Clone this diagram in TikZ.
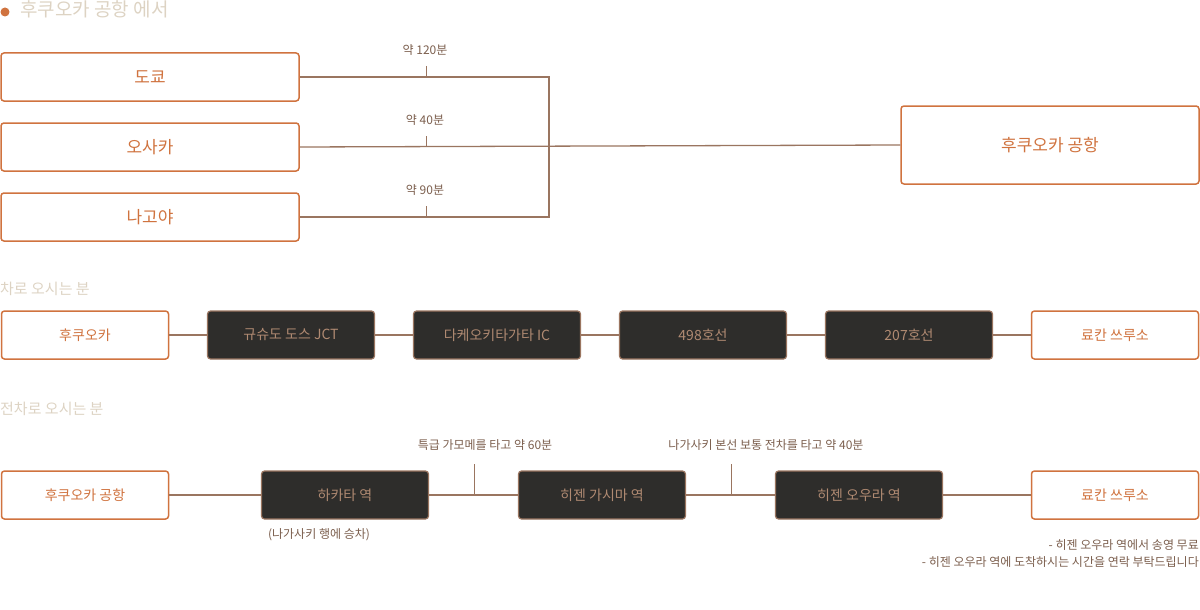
\documentclass[tikz,border=0pt]{standalone}
\usepackage{fontspec}
\setmainfont{Noto Sans CJK KR}
\usetikzlibrary{positioning}
\definecolor{orng}{HTML}{D0733F}
\definecolor{brwn}{HTML}{9A7560}
\definecolor{dark}{HTML}{2E2D2B}
\definecolor{dtxt}{HTML}{B08A72}
\definecolor{pale}{HTML}{DDD3C3}
\tikzset{
  obox/.style={draw=orng,line width=1.5pt,rounded corners=3pt,fill=white,text=orng,inner sep=0pt},
  dbox/.style={draw=brwn,line width=1.2pt,rounded corners=3pt,fill=dark,text=dtxt,inner sep=0pt},
  conn/.style={draw=brwn,line width=1.3pt},
  head/.style={text=pale,font=\fontsize{19}{19}\selectfont,anchor=west,inner sep=0pt},
  note/.style={text=brwn!80!black,font=\fontsize{12}{12}\selectfont,inner sep=0pt}
}
\begin{document}
\begin{tikzpicture}[x=1pt,y=-1pt]
\useasboundingbox (0,0) rectangle (1200,610);
% airport
\fill[orng] (5,12) circle (4.5);
\node[head] (t1) at (20,9) {후쿠오카 공항 에서};
\node[obox,minimum width=298pt,minimum height=48pt,font=\fontsize{17}{17}\selectfont] (tky) at (150,77) {도쿄};
\node[obox,minimum width=298pt,minimum height=48pt,font=\fontsize{17}{17}\selectfont] (osk) at (150,147) {오사카};
\node[obox,minimum width=298pt,minimum height=48pt,font=\fontsize{17}{17}\selectfont] (ngy) at (150,217) {나고야};
\node[obox,minimum width=298pt,minimum height=78pt,font=\fontsize{17}{17}\selectfont] (fuk) at (1050,145) {후쿠오카 공항};
\coordinate (j1) at (549,77);
\coordinate (j2) at (549,217);
\draw[conn] (tky.east) -- (j1) -- (j2) -- (ngy.east);
\draw[conn] (osk.east) -- (fuk.west);
\node[note] (l1) at (425,50) {약 120분};
\node[note] (l2) at (425,120) {약 40분};
\node[note] (l3) at (425,190) {약 90분};
\draw[brwn,line width=0.8pt] (426,66) -- (426,77) (426,136) -- (426,147) (426,206) -- (426,217);
% car
\node[head,font=\fontsize{15}{15}\selectfont] (t2) at (0,289) {차로 오시는 분};
\foreach \n/\x/\s/\t in {c1/85/obox/후쿠오카,c2/291/dbox/규슈도 도스 JCT,c3/497/dbox/다케오키타가타 IC,c4/703/dbox/498호선,c5/909/dbox/207호선,c6/1115/obox/료칸 쓰루소}
  \node[\s,minimum width=167pt,minimum height=48pt,font=\fontsize{14}{14}\selectfont] (\n) at (\x,335) {\t};
\draw[conn] (c1) -- (c2) (c2) -- (c3) (c3) -- (c4) (c4) -- (c5) (c5) -- (c6);
% train
\node[head,font=\fontsize{15}{15}\selectfont] (t3) at (0,409) {전차로 오시는 분};
\foreach \n/\x/\s/\t in {r1/85/obox/후쿠오카 공항,r2/345/dbox/하카타 역,r3/602/dbox/히젠 가시마 역,r4/859/dbox/히젠 오우라 역,r5/1115/obox/료칸 쓰루소}
  \node[\s,minimum width=167pt,minimum height=48pt,font=\fontsize{14}{14}\selectfont] (\n) at (\x,495) {\t};
\draw[conn] (r1) -- (r2) (r2) -- (r3) (r3) -- (r4) (r4) -- (r5);
\draw[brwn,line width=0.8pt] (474,464) -- (474,495) (731,464) -- (731,495);
\node[note] (m1) at (485,445) {특급 가모메를 타고 약 60분};
\node[note] (m2) at (766,445) {나가사키 본선 보통 전차를 타고 약 40분};
\node[note] (m3) at (319,535) {(나가사키 행에 승차)};
\node[note,anchor=east] (m4) at (1199,545) {- 히젠 오우라 역에서 송영 무료};
\node[note,anchor=east] (m5) at (1199,562) {- 히젠 오우라 역에 도착하시는 시간을 연락 부탁드립니다};
\end{tikzpicture}
\end{document}
